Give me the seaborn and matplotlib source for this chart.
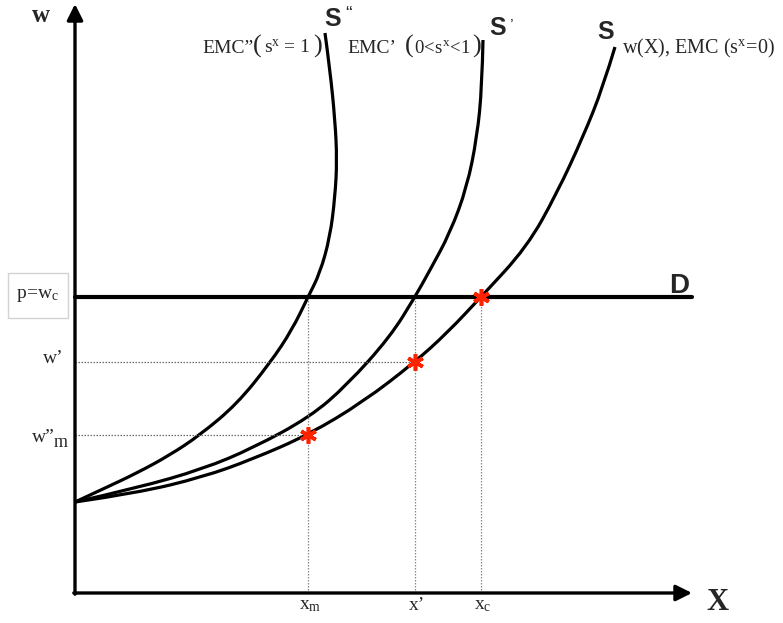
import numpy as np
import pandas as pd
import matplotlib
matplotlib.use("Agg")
import matplotlib.pyplot as plt
from matplotlib.path import Path
from matplotlib.patches import PathPatch, Rectangle
import seaborn as sns

# curve points (X from the w axis, w up from the X axis)
s_x = [0, 62, 128, 178, 233, 288, 340, 372, 406, 452, 482, 508, 528, 540]
s_w = [91, 100, 116, 134, 158, 191, 231, 260, 296, 346, 400, 456, 506, 546]

s1_x = [0, 62, 128, 178, 235, 272, 315, 340, 355, 375, 392, 402, 407, 408]
s1_w = [91, 105, 124, 145, 176, 208, 256, 296, 323, 360, 406, 456, 506, 553]

s2_x = [0, 28, 62, 95, 125, 162, 195, 217, 233, 245, 255, 260, 262, 260, 255, 250]
s2_w = [91, 104, 120, 138, 158, 189, 230, 263, 296, 320, 356, 396, 433, 473, 523, 560]

# equilibrium points
eq_x = [233, 340, 406]
eq_w = [158, 231, 296]

d_level = 296
d_end = 617
x_ticks = [233, 340, 406]
x_tick_labels = [r"$\mathrm{x_m}$", "x\u2019", r"$\mathrm{x_c}$"]

sns.set_theme(style="white")
plt.rcParams["font.family"] = ["Liberation Serif", "DejaVu Serif"]
plt.rcParams["mathtext.fontset"] = "custom"
plt.rcParams["mathtext.rm"] = "Liberation Serif"
plt.rcParams["mathtext.it"] = "Liberation Serif:italic"

fig = plt.figure(figsize=(7.83, 6.23), dpi=100)
ax = fig.add_axes([0, 0, 1, 1])
ax.set_xlim(-75, 708)
ax.set_ylim(-30, 593)
ax.axis("off")


def smooth(xs, ws):
    # quadratic bezier through the midpoints of the read points
    pts = list(zip(xs, ws))
    verts = [pts[0]]
    codes = [Path.MOVETO]
    for i in range(1, len(pts) - 1):
        mid = ((pts[i][0] + pts[i + 1][0]) / 2, (pts[i][1] + pts[i + 1][1]) / 2)
        verts += [pts[i], mid]
        codes += [Path.CURVE3, Path.CURVE3]
    verts[-1] = pts[-1]
    return Path(verts, codes)


# dotted guide lines
for xv in x_ticks:
    ax.plot([xv, xv], [0, d_level], ls=(0, (1.2, 1.2)), color="#8a8a8a", lw=0.9)
for xv, wv in zip(eq_x[:2], eq_w[:2]):
    ax.plot([0, xv], [wv, wv], ls=(0, (1.2, 1.2)), color="#6a6a6a", lw=0.9)

# demand line
sns.lineplot(x=[0, d_end], y=[d_level, d_level], color="black", lw=3.0, ax=ax)

# supply curves
for xs, ws in [(s_x, s_w), (s1_x, s1_w), (s2_x, s2_w)]:
    ax.add_patch(PathPatch(smooth(xs, ws), fc="none", ec="black", lw=2.3,
                           capstyle="butt"))

ax.plot(eq_x, eq_w, ls="none", marker=(6, 2, 0), ms=12, mew=2.6,
        color="#ff2200", zorder=5)

# axes with arrows
ax.annotate("", xy=(0, 589), xytext=(0, -1.2),
            arrowprops=dict(arrowstyle="-|>", lw=2.4, color="black",
                            mutation_scale=24, shrinkA=0, shrinkB=0))
ax.annotate("", xy=(617, 0), xytext=(-1.2, 0),
            arrowprops=dict(arrowstyle="-|>", lw=2.4, color="black",
                            mutation_scale=24, shrinkA=0, shrinkB=0))

ax.text(-34, 577, "w", fontsize=18, fontweight="bold", ha="center", va="center")
ax.text(642, -10, "X", fontsize=22, fontweight="bold", ha="center", va="center")
ax.text(604, 307, "D", fontsize=20, fontweight="bold", ha="center", va="center",
        family="Liberation Sans")

# S labels
sans = dict(family="Liberation Sans", fontweight="bold", ha="center", va="center")
ax.text(258, 574, "S", fontsize=18, **sans)
ax.text(274, 578, "\u201c", fontsize=14, family="Liberation Sans", ha="center", va="center")
ax.text(423, 565, "S", fontsize=18, **sans)
ax.text(437, 567, "\u2019", fontsize=12, family="Liberation Sans", ha="center", va="center")
ax.text(531, 561, "S", fontsize=18, **sans)

# curve captions, baseline at w = 540
base = 540
ax.text(127, base, "EMC\u201d", fontsize=14, ha="left", va="baseline")
ax.text(178, base, "(", fontsize=19, ha="left", va="baseline")
ax.text(189, base, r"s$^\mathrm{x}$ = 1", fontsize=14, ha="left", va="baseline")
ax.text(238, base, ")", fontsize=19, ha="left", va="baseline")

ax.text(272, base, "EMC\u2019", fontsize=14, ha="left", va="baseline")
ax.text(330, base, "(", fontsize=19, ha="left", va="baseline")
ax.text(339, base, r"$\mathrm{0\!<\!s^x\!<\!1}$", fontsize=13.5, ha="left", va="baseline")
ax.text(397, base, ")", fontsize=19, ha="left", va="baseline")

ax.text(547, base, "w(X), EMC " + r"$\mathrm{(s^x\!=\!0)}$", fontsize=14.5,
        ha="left", va="baseline")

# w axis labels
ax.add_patch(Rectangle((-67, 275), 60, 45, fc="white", ec="#d2d2d2", lw=1))
ax.text(-37, 297, r"$\mathrm{p\!=\!w_c}$", fontsize=14, ha="center", va="center")
ax.text(-32, 230, "w\u2019", fontsize=14, ha="left", va="baseline")
ax.text(-43, 151, "w\u201d", fontsize=14, ha="left", va="baseline")
ax.text(-21, 146, "m", fontsize=13, ha="left", va="baseline")

for xv, lab in zip(x_ticks, x_tick_labels):
    ax.text(xv + 2, -13, lab, fontsize=14, ha="center", va="center")

fig.savefig("out.png", dpi=100)
